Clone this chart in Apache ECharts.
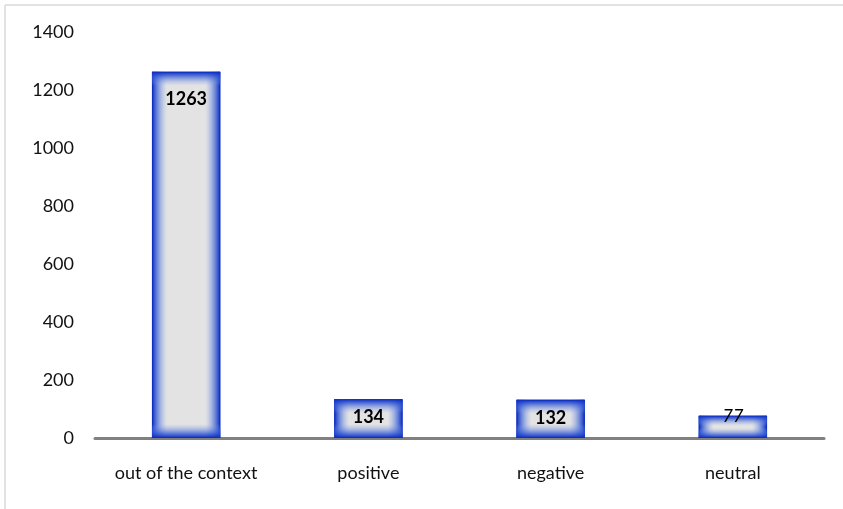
<!DOCTYPE html>
<html>
<head>
<meta charset="utf-8">
<script src="https://cdn.jsdelivr.net/npm/echarts@6/dist/echarts.min.js"></script>
<style>
  html, body { margin: 0; padding: 0; background: #fff; }
  #chart { width: 843px; height: 509px; }
</style>
</head>
<body>
<div id="chart"></div>
<script>
// data
var categories = ['out of the context', 'positive', 'negative', 'neutral'];
var counts = [1263, 134, 132, 77];
var yTicks = { min: 0, max: 1400, interval: 200 };

var BLUE = '#0f33c4';
var FONT = 'Lato, "Open Sans", sans-serif';
// approx px per unit, used only to keep the top/bottom glow a fixed thickness
var PLOT_H = 406;

function vGlow(v) {
  var h = v / yTicks.max * PLOT_H;
  var f = Math.min(0.45, 14 / h);
  return {
    type: 'linear', x: 0, y: 0, x2: 0, y2: 1,
    colorStops: [
      { offset: 0, color: 'rgba(10,40,190,1)' },
      { offset: f * 0.3, color: 'rgba(40,80,210,0.75)' },
      { offset: f, color: 'rgba(140,165,235,0)' },
      { offset: 1 - f, color: 'rgba(140,165,235,0)' },
      { offset: 1 - f * 0.3, color: 'rgba(40,80,210,0.75)' },
      { offset: 1, color: 'rgba(10,40,190,1)' }
    ]
  };
}

var labelStyles = [
  { offset: [0, 13], fontWeight: 'bold', fontStyle: 'normal' },
  { offset: [0, 4], fontWeight: 'bold', fontStyle: 'normal' },
  { offset: [0, 4], fontWeight: 'bold', fontStyle: 'normal' },
  { offset: [0, -13], fontWeight: 'normal', fontStyle: 'italic' }
];

var chart = echarts.init(document.getElementById('chart'));
chart.setOption({
  animation: false,
  backgroundColor: '#fff',
  graphic: [
    { type: 'line', shape: { x1: 5, y1: 5, x2: 843, y2: 5 }, style: { stroke: '#e2e2e2', lineWidth: 2 } },
    { type: 'line', shape: { x1: 5, y1: 5, x2: 5, y2: 509 }, style: { stroke: '#e2e2e2', lineWidth: 2 } }
  ],
  grid: { left: 95, right: 19, top: 32, bottom: 71 },
  xAxis: {
    type: 'category',
    data: categories,
    axisLine: { lineStyle: { color: '#808080', width: 3 } },
    axisTick: { show: false },
    axisLabel: { color: '#111', fontSize: 18, fontFamily: FONT, margin: 26, interval: 0 }
  },
  yAxis: {
    type: 'value',
    min: yTicks.min,
    max: yTicks.max,
    interval: yTicks.interval,
    splitLine: { show: false },
    axisLine: { show: false },
    axisTick: { show: false },
    axisLabel: {
      color: '#111', fontSize: 18, fontFamily: FONT, margin: 21,
      formatter: function (v) { return String(v); }
    }
  },
  series: [
    {
      // base fill
      type: 'bar',
      barWidth: '37.5%',
      barGap: '-100%',
      data: counts,
      itemStyle: { color: '#e3e3e3', borderColor: BLUE, borderWidth: 1 },
      silent: true
    },
    {
      // left/right glow
      type: 'bar',
      barWidth: '37.5%',
      barGap: '-100%',
      data: counts,
      itemStyle: {
        color: {
          type: 'linear', x: 0, y: 0, x2: 1, y2: 0,
          colorStops: [
            { offset: 0, color: 'rgba(10,40,190,1)' },
            { offset: 0.06, color: 'rgba(40,80,210,0.75)' },
            { offset: 0.22, color: 'rgba(140,165,235,0)' },
            { offset: 0.78, color: 'rgba(140,165,235,0)' },
            { offset: 0.94, color: 'rgba(40,80,210,0.75)' },
            { offset: 1, color: 'rgba(10,40,190,1)' }
          ]
        }
      },
      silent: true
    },
    {
      // top/bottom glow + labels
      type: 'bar',
      barWidth: '37.5%',
      barGap: '-100%',
      data: counts.map(function (v, i) {
        return {
          value: v,
          itemStyle: { color: vGlow(v) },
          label: labelStyles[i]
        };
      }),
      label: {
        show: true,
        position: 'insideTop',
        color: '#000',
        fontSize: 18,
        fontFamily: FONT
      }
    }
  ]
});
</script>
</body>
</html>
